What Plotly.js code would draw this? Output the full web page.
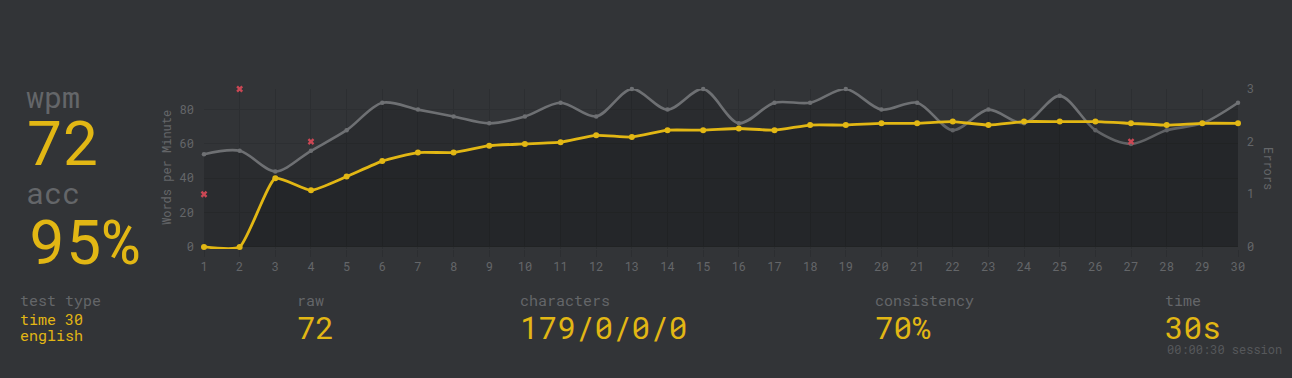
<!DOCTYPE html>
<html>
<head>
<meta charset="utf-8">
<script src="https://cdn.plot.ly/plotly-3.0.1.min.js"></script>
<style>
html,body{margin:0;padding:0;background:#323437;}
#chart{width:1292px;height:378px;}
</style>
</head>
<body>
<div id="chart"></div>
<script>
// Data
const seconds = [1,2,3,4,5,6,7,8,9,10,11,12,13,14,15,16,17,18,19,20,21,22,23,24,25,26,27,28,29,30];
const wpm = [0,0,40,33,41,50,55,55,59,60,61,65,64,68,68,69,68,71,71,72,72,73,71,73,73,73,72,71,72,72];
const raw = [54,56,44,56,68,84,80,76,72,76,84,76,92,80,92,72,84,84,92,80,84,68,80,72,88,68,60,68,72,84];
const errorSeconds = [1,2,4,27];
const errorCounts = [1,3,2,2];
const leftTicks = [0,20,40,60,80];
const rightTicks = [0,1,2,3];

const stats = {
  wpmLabel: "wpm", wpmValue: "72",
  accLabel: "acc", accValue: "95%",
  testTypeLabel: "test type", testTypeLines: ["time 30", "english"],
  rawLabel: "raw", rawValue: "72",
  charsLabel: "characters", charsValue: "179/0/0/0",
  consLabel: "consistency", consValue: "70%",
  timeLabel: "time", timeValue: "30s", session: "00:00:30 session"
};

const MAIN = "#e2b714", SUB = "#646669", ERR = "#ca4754", BG = "#323437";
const RAWC = "#6e7073";
const FONT = "Roboto Mono, DejaVu Sans Mono, monospace";

const W = 1292, H = 378;
const L = 204, R = 54, T = 89, B = 129;
const PW = W - L - R, PH = H - T - B;
const px = v => (v - L) / PW;
const py = v => (H - B - v) / PH;

function ann(text, x, y, size, color, extra) {
  return Object.assign({
    text: text, xref: "paper", yref: "paper", x: px(x), y: py(y),
    xanchor: "left", yanchor: "middle", showarrow: false,
    font: {family: FONT, size: size, color: color}
  }, extra || {});
}

const annotations = [
  ann(stats.wpmLabel, 24, 96, 30, SUB),
  ann(stats.wpmValue, 24, 141, 62, MAIN),
  ann(stats.accLabel, 24, 192, 30, SUB),
  ann(stats.accValue, 26, 240, 62, MAIN),
  ann(stats.testTypeLabel, 18, 300, 15, SUB),
  ann(stats.testTypeLines[0], 18, 319, 15, MAIN),
  ann(stats.testTypeLines[1], 18, 335, 15, MAIN),
  ann(stats.rawLabel, 295, 300, 15, SUB),
  ann(stats.rawValue, 295, 327, 31, MAIN),
  ann(stats.charsLabel, 518, 300, 15, SUB),
  ann(stats.charsValue, 518, 327, 31, MAIN),
  ann(stats.consLabel, 873, 300, 15, SUB),
  ann(stats.consValue, 873, 327, 31, MAIN),
  ann(stats.timeLabel, 1163, 300, 15, SUB),
  ann(stats.timeValue, 1163, 327, 31, MAIN),
  ann(stats.session, 1165, 349, 12, "#56585b"),
  ann("Words per Minute", 166, 168, 12, SUB, {xanchor: "center", textangle: -90}),
  ann("Errors", 1269, 168, 12, SUB, {xanchor: "center", textangle: 90})
];

const traces = [
  {
    x: seconds, y: raw, name: "raw", type: "scatter", mode: "lines+markers",
    line: {color: RAWC, width: 2.6, shape: "spline", smoothing: 0.9},
    marker: {color: RAWC, size: 4.5},
    fill: "tozeroy", fillcolor: "rgba(0,0,0,0.14)",
    cliponaxis: false, hoverinfo: "skip"
  },
  {
    x: seconds, y: wpm, name: "wpm", type: "scatter", mode: "lines+markers",
    line: {color: MAIN, width: 2.8, shape: "spline", smoothing: 0.5},
    marker: {color: MAIN, size: 6},
    fill: "tozeroy", fillcolor: "rgba(0,0,0,0.12)",
    cliponaxis: false, hoverinfo: "skip"
  },
  {
    x: errorSeconds, y: errorCounts, name: "errors", type: "scatter", mode: "markers",
    yaxis: "y2",
    marker: {color: ERR, symbol: "x", size: 6, line: {width: 0}},
    cliponaxis: false, hoverinfo: "skip"
  }
];

const layout = {
  width: W, height: H,
  paper_bgcolor: BG, plot_bgcolor: BG,
  margin: {l: L, r: R, t: T, b: B, pad: 0},
  showlegend: false,
  font: {family: FONT, color: SUB, size: 12},
  xaxis: {
    range: [1, 30], tickvals: seconds, ticktext: seconds.map(String),
    showgrid: true, gridcolor: "#2c2e31", gridwidth: 1,
    zeroline: false, showline: false,
    ticks: "outside", ticklen: 7, tickcolor: "#2c2e31", tickwidth: 1,
    tickfont: {family: FONT, size: 12, color: SUB}, fixedrange: true
  },
  yaxis: {
    range: [-1.2, 92], tickvals: leftTicks,
    showgrid: true, gridcolor: "#2d2f32", gridwidth: 1,
    zeroline: false, showline: false, ticks: "",
    ticklabelstandoff: 9,
    tickfont: {family: FONT, size: 12, color: SUB}, fixedrange: true
  },
  yaxis2: {
    range: [-0.04, 3], tickvals: rightTicks, overlaying: "y", side: "right",
    showgrid: false, zeroline: false, showline: false, ticks: "",
    ticklabelstandoff: 8,
    tickfont: {family: FONT, size: 12, color: SUB}, fixedrange: true
  },
  annotations: annotations
};

Plotly.newPlot("chart", traces, layout, {displayModeBar: false, staticPlot: true});
</script>
</body>
</html>
